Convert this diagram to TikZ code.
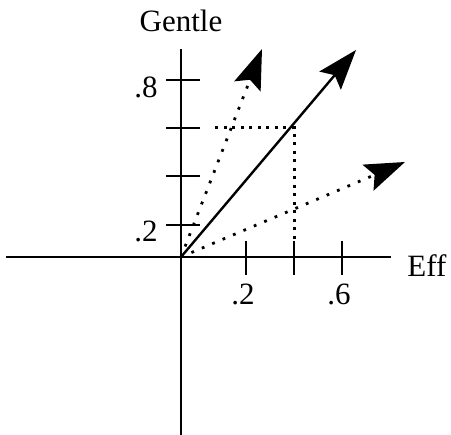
\documentclass[tikz,border=0pt]{standalone}
\usepackage{fontspec}
\setmainfont{Liberation Serif}
\usetikzlibrary{arrows.meta}
\begin{document}
\begin{tikzpicture}[x=1pt,y=-1pt,
  axis/.style={line width=2.4pt},
  tickmark/.style={line width=2.4pt},
  lbl/.style={font=\fontsize{31}{36}\selectfont, inner sep=0pt, anchor=base},
  bighead/.style={-{Stealth[length=40pt,width=28pt,inset=7pt]}},
  solidvec/.style={line width=2.4pt, bighead},
  dotvec/.style={line width=2.8pt, dash pattern=on 2.8pt off 8.5pt, bighead},
  guide/.style={line width=3pt, dash pattern=on 3pt off 5.5pt}
]
\useasboundingbox (0,0) rectangle (451,435);
% axes
\coordinate (O) at (181,257);
\coordinate (xl) at (6,257);
\coordinate (xr) at (391,257);
\coordinate (yt) at (181,49);
\coordinate (yb) at (181,435);
\draw[axis] (xl) -- (xr);
\draw[axis] (yt) -- (yb);
% y ticks
\foreach \y/\n in {80/a,128/b,176/c,225/d}{
  \coordinate (yt\n l) at (166,\y);
  \coordinate (yt\n r) at (200,\y);
  \draw[tickmark] (yt\n l) -- (yt\n r);
}
% x ticks
\foreach \x/\n in {246/a,294/b,342/c}{
  \coordinate (xt\n t) at (\x,241);
  \coordinate (xt\n b) at (\x,275);
  \draw[tickmark] (xt\n t) -- (xt\n b);
}
% labels
\node[lbl] (gentle) at (181,32) {Gentle};
\node[lbl] (eff) at (427,277) {Eff};
\node[lbl] (y8) at (146,98) {.8};
\node[lbl] (y2) at (146,242) {.2};
\node[lbl] (x2) at (243,305) {.2};
\node[lbl] (x6) at (339,305) {.6};
% dotted guide lines
\coordinate (gl) at (215,128);
\coordinate (gc) at (294,128);
\coordinate (gb) at (294,241);
\draw[guide] (gl) -- (gc) -- (gb);
% vectors
\coordinate (tipS) at (356,50);
\coordinate (tipU) at (262,49);
\coordinate (tipL) at (405,162);
\draw[solidvec] (O) -- (tipS);
\draw[dotvec] (O) -- (tipU);
\draw[dotvec] (O) -- (tipL);
\end{tikzpicture}
\end{document}
